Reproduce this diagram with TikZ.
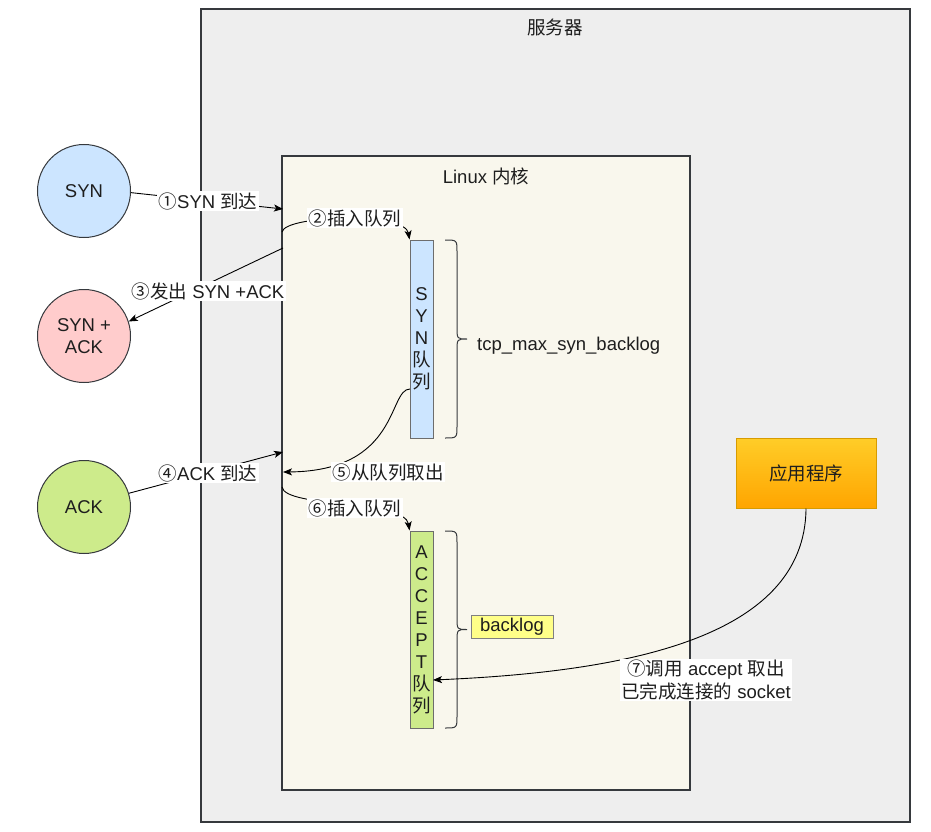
\documentclass[tikz,border=0pt]{standalone}
\usepackage{fontspec}
\setmainfont{Liberation Sans}
\newfontfamily\cjk{Noto Sans CJK SC}
\usetikzlibrary{arrows.meta}
\newcommand\zh[1]{{\cjk #1}}
\definecolor{edgec}{HTML}{36393D}
\definecolor{srvfill}{HTML}{EEEEEE}
\definecolor{kerfill}{HTML}{F9F7ED}
\definecolor{bluef}{HTML}{CCE5FF}
\definecolor{redf}{HTML}{FFCCCC}
\definecolor{greenf}{HTML}{CDEB8B}
\definecolor{qedge}{HTML}{6D6D6D}
\definecolor{yelf}{HTML}{FFFF88}
\definecolor{apptop}{HTML}{FFCD28}
\definecolor{appbot}{HTML}{FFA500}
\definecolor{appedge}{HTML}{D79B00}
\definecolor{txt}{HTML}{1E1E1E}
\begin{document}
\begin{tikzpicture}[x=1pt,y=-1pt,
  font=\fontsize{18.5}{22.5}\selectfont, text=txt,
  box/.style={draw=edgec, line width=1.2pt, inner sep=0pt, outer sep=0pt},
  circ/.style={circle, draw=edgec, line width=1pt, minimum size=93pt, inner sep=0pt, align=center},
  queue/.style={draw=qedge, line width=1pt, minimum width=23pt, inner sep=0pt, align=center, font=\fontsize{18.5}{22}\selectfont},
  arr/.style={-{Stealth[length=9pt,width=7pt,inset=2.2pt]}, line width=0.9pt},
  lbl/.style={fill=white, inner sep=1.5pt, align=center},
  brace/.style={line width=1pt, draw=edgec}
]
\useasboundingbox (0,0) rectangle (931,832);

% containers
\node[box, fill=srvfill, minimum width=709pt, minimum height=813pt] (server) at (555.5,415.5) {};
\node (srvtitle) at (555,27) {\zh{服务器}};
\node[box, fill=kerfill, minimum width=408pt, minimum height=634pt] (kernel) at (486,473) {};
\node (kertitle) at (486,176) {Linux \zh{内核}};

% circles
\node[circ, fill=bluef] (syn) at (84,191) {SYN};
\node[circ, fill=redf] (synack) at (84,336) {SYN +\\ACK};
\node[circ, fill=greenf] (ack) at (84,507) {ACK};

% queues
\node[queue, fill=bluef, minimum height=198pt] (synq) at (421.5,339) {S\\Y\\N\\\zh{队}\\\zh{列}};
\node[queue, fill=greenf, minimum height=197pt] (accq) at (421.5,629.5) {A\\C\\C\\E\\P\\T\\\zh{队}\\\zh{列}};

% braces
\draw[brace] (445,240) .. controls (457,240) .. (457,252) -- (457,327) .. controls (457,339) .. (467,339)
  .. controls (457,339) .. (457,351) -- (457,426) .. controls (457,438) .. (445,438);
\draw[brace] (445,531) .. controls (457,531) .. (457,543) -- (457,617.5) .. controls (457,629.5) .. (467,629.5)
  .. controls (457,629.5) .. (457,641.5) -- (457,716) .. controls (457,728) .. (445,728);
\node[anchor=west, inner sep=0pt] (synbl) at (477,346) {tcp\_max\_syn\_backlog};
\node[draw=gray, line width=1pt, fill=yelf, minimum width=82pt, minimum height=23pt, inner sep=0pt] (bl) at (512,626.5) {backlog};

% application
\node[draw=appedge, line width=1pt, top color=apptop, bottom color=appbot, minimum width=140pt, minimum height=70pt] (app) at (806,473) {\zh{应用程序}};

% anchor coordinates on the kernel edge
\coordinate (k1) at (283,209);
\coordinate (k2) at (282,232);
\coordinate (k3) at (283,248);
\coordinate (k4) at (283,452);
\coordinate (k5) at (283,472);
\coordinate (k6) at (282,487);
\coordinate (s5) at (410,389);
\coordinate (a7) at (433,680);

% connectors
\draw[arr] (syn.-2) -- (k1);
\draw[arr] (k2) .. controls (285,215) and (405,212) .. (synq.north west);
\draw[arr] (k3) -- (synack.18);
\draw[arr] (ack.17) -- (k4);
\draw[arr] (s5) .. controls (388,389) and (400,471) .. (k5);
\draw[arr] (k6) .. controls (285,508) and (405,500) .. (accq.north west);
\draw[arr] (app.south) .. controls (805,640) and (620,672) .. (a7);

% labels
\node[lbl] (l1) at (208,201) {\zh{①}SYN \zh{到达}};
\node[lbl] (l2) at (355,218) {\zh{②插入队列}};
\node[lbl] (l3) at (208,291) {\zh{③发出} SYN +ACK};
\node[lbl] (l4) at (208,473) {\zh{④}ACK \zh{到达}};
\node[lbl] (l5) at (388,472) {\zh{⑤从队列取出}};
\node[lbl] (l6) at (355,508) {\zh{⑥插入队列}};
\node[lbl] (l7) at (706,680) {\zh{⑦调用} accept \zh{取出}\\\zh{已完成连接的} socket};
\end{tikzpicture}
\end{document}
